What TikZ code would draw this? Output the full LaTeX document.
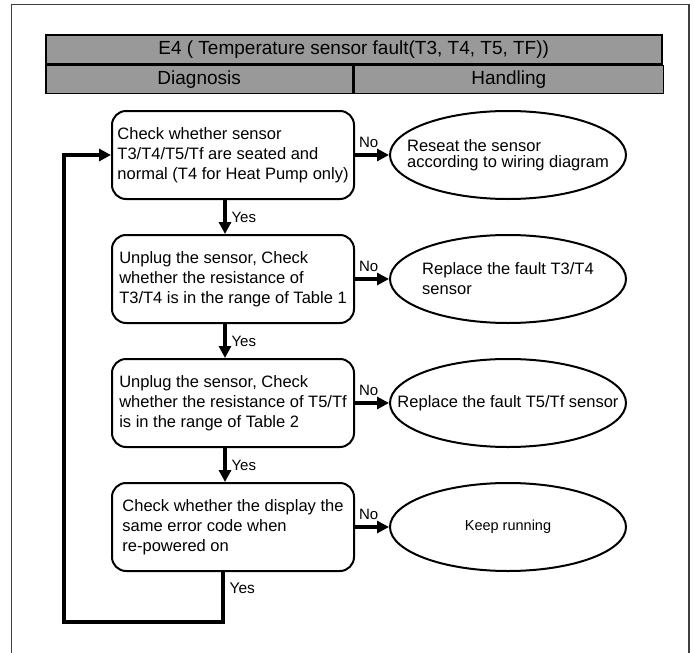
\documentclass[tikz,border=0pt]{standalone}
\usepackage{fontspec}
\setmainfont{Liberation Sans}
\usetikzlibrary{arrows.meta,positioning,shapes.geometric}

\tikzset{
  hdrcell/.style={draw, line width=1.6pt, fill=black!40, inner sep=0pt,
    font=\fontsize{19}{22}\selectfont},
  chkbox/.style={draw, line width=2pt, rounded corners=14pt,
    minimum width=242pt, minimum height=88pt, inner sep=0pt, align=left,
    font=\fontsize{16.5}{20}\selectfont},
  fixoval/.style={draw, ellipse, line width=2pt, minimum width=236pt,
    minimum height=88pt, inner sep=0pt},
  ovaltext/.style={align=left, inner sep=0pt, font=\fontsize{16.5}{20}\selectfont},
  flowarr/.style={line width=3.2pt, -{Triangle[length=12pt,width=12pt]}},
  lbl/.style={font=\fontsize{15}{17}\selectfont, inner sep=2pt}
}

\begin{document}
\begin{tikzpicture}[x=1pt,y=-1pt]
    \useasboundingbox (0,0) rectangle (694,653);

    % outer frame
    \draw[line width=1.5pt, black!75] (11.7,4.7) rectangle (689,700);

    % table header
    \node[hdrcell, minimum width=616pt, minimum height=29pt] (title) at (353.7,49.5)
        {E4 ( Temperature sensor fault(T3, T4, T5, TF))};
    \node[hdrcell, minimum width=307pt, minimum height=28pt, anchor=north west] (diag)
        at (title.south west) {Diagnosis};
    \node[hdrcell, minimum width=309pt, minimum height=28pt, anchor=north west] (hand)
        at (diag.north east) {Handling};

    % diagnosis steps
    \node[chkbox] (b1) at (233,155)
        {Check whether sensor\\T3/T4/T5/Tf are seated and\\normal (T4 for Heat Pump only)};
    \node[chkbox, below=34pt of b1] (b2)
        {Unplug the sensor, Check\\whether the resistance of\\T3/T4 is in the range of Table 1};
    \node[chkbox, below=34pt of b2] (b3)
        {Unplug the sensor, Check\\whether the resistance of T5/Tf\\is in the range of Table 2};
    \node[chkbox, below=34pt of b3] (b4)
        {Check whether the display the\\same error code when\\re-powered on};

    % handling
    \node[fixoval, right=34pt of b1,
        label={[ovaltext, font=\fontsize{16.5}{16}\selectfont]center:Reseat the sensor\\according to wiring diagram}] (e1) {};
    \node[fixoval, right=34pt of b2,
        label={[ovaltext]center:Replace the fault T3/T4\\sensor}] (e2) {};
    \node[fixoval, right=34pt of b3,
        label={[ovaltext]center:Replace the fault T5/Tf sensor}] (e3) {};
    \node[fixoval, right=34pt of b4,
        label={[ovaltext, font=\fontsize{14.5}{17}\selectfont]center:Keep running}] (e4) {};

    % No branches
    \draw[flowarr] (b1) -- node[lbl, above=4pt, pos=0.4]{No} (e1);
    \draw[flowarr] (b2) -- node[lbl, above=4pt, pos=0.4]{No} (e2);
    \draw[flowarr] (b3) -- node[lbl, above=4pt, pos=0.4]{No} (e3);
    \draw[flowarr] (b4) -- node[lbl, above=4pt, pos=0.4]{No} (e4);

    % Yes branches
    \draw[flowarr] ([xshift=-8pt]b1.south) -- node[lbl, right=3pt]{Yes} ([xshift=-8pt]b2.north);
    \draw[flowarr] ([xshift=-8pt]b2.south) -- node[lbl, right=3pt]{Yes} ([xshift=-8pt]b3.north);
    \draw[flowarr] ([xshift=-8pt]b3.south) -- node[lbl, right=3pt]{Yes} ([xshift=-8pt]b4.north);

    % loop back
    \coordinate (loopbl) at (64,622);
    \draw[flowarr] ([xshift=-10pt]b4.south)
        -- node[lbl, right=3pt, pos=0.32, font=\fontsize{15.5}{17}\selectfont]{Yes}
        ([xshift=-10pt]b4.south |- loopbl) -- (loopbl) |- (b1.west);
\end{tikzpicture}
\end{document}
